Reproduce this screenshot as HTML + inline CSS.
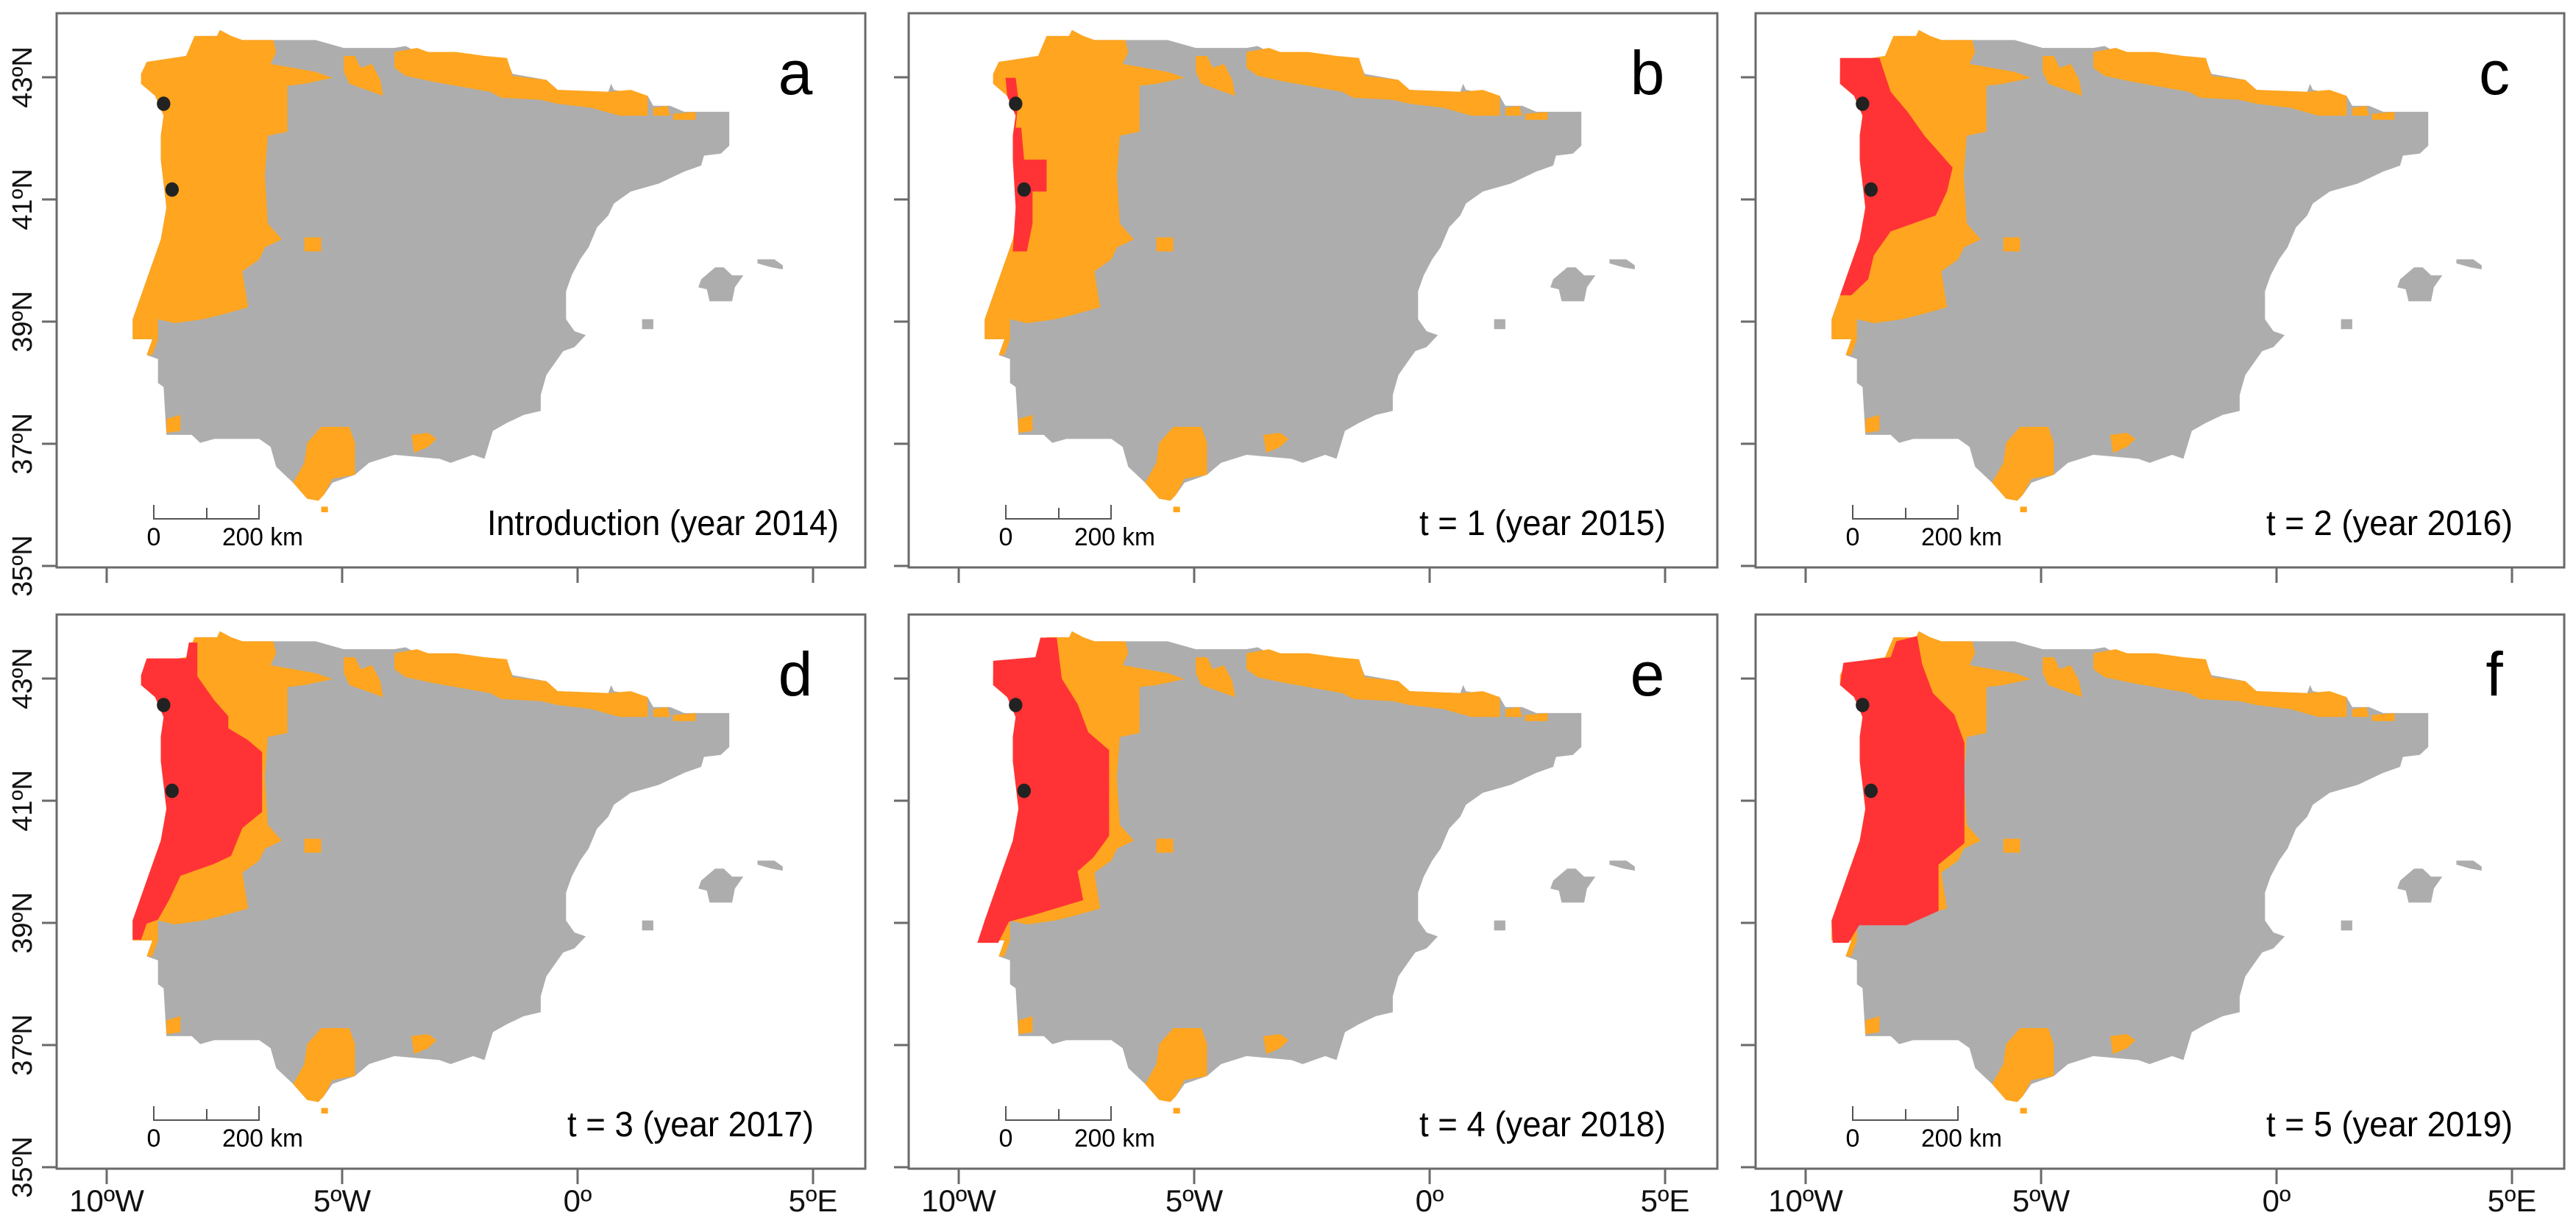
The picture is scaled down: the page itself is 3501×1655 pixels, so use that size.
<!DOCTYPE html>
<html><head><meta charset="utf-8"><style>
html,body{margin:0;padding:0;background:#fff;}
svg{display:block;font-family:"Liberation Sans",Arial,sans-serif;}
</style></head><body>
<svg id="fig" width="3501" height="1655" viewBox="0 0 3501 1655" xmlns="http://www.w3.org/2000/svg"></svg>
<script>
const latTicks = [43, 41, 39, 37, 35];
const latLabels = ["43ºN", "41ºN", "39ºN", "37ºN", "35ºN"];
const lonTicks = [-10, -5, 0, 5];
const lonLabels = ["10ºW", "5ºW", "0º", "5ºE"];
const panelLetters = ["a", "b", "c", "d", "e", "f"];
const panelCaptions = ["Introduction (year 2014)", "t = 1 (year 2015)", "t = 2 (year 2016)", "t = 3 (year 2017)", "t = 4 (year 2018)", "t = 5 (year 2019)"];
const sites = [[290,260],[305,475]];

// map outlines in map units
const iberia = "250,185 260,155 330,140 345,90 385,90 390,75 410,90 430,100 560,100 610,120 700,120 720,115 740,130 900,150 910,185 970,200 990,225 1080,230 1085,210 1090,225 1150,240 1160,265 1190,265 1215,280 1295,280 1295,365 1280,385 1250,390 1245,415 1215,430 1170,460 1120,480 1090,510 1080,540 1060,570 1045,620 1030,650 1015,690 1005,730 1005,800 1020,830 1040,840 1020,870 1000,880 990,900 970,940 960,990 960,1030 930,1040 900,1060 875,1080 860,1150 840,1140 800,1160 780,1150 700,1140 655,1160 630,1190 590,1210 575,1240 565,1255 545,1250 520,1210 490,1170 480,1120 460,1100 380,1100 355,1110 340,1090 295,1090 290,970 280,960 280,900 260,890 270,850 235,850 235,800 250,740 265,680 285,600 295,520 285,400 285,340 290,290 275,240 250,210";
const islands = ["1245,700 1270,670 1285,670 1300,690 1320,690 1305,720 1300,755 1260,755 1255,725 1240,720","1345,650 1375,650 1390,665 1390,675 1370,670 1345,660","1140,800 1160,800 1160,825 1140,825"];
const orangeAreas = [
"250,185 260,155 330,140 345,90 385,90 390,75 410,90 430,100 485,100 490,130 480,160 520,170 560,180 590,195 540,210 510,215 510,330 475,340 470,440 475,560 500,600 470,620 460,650 430,680 440,770 390,790 360,800 310,810 280,800 280,850 270,890 260,890 270,850 235,850 235,800 250,740 265,680 285,600 295,520 285,400 285,340 290,290 275,240 250,210",
"610,140 630,140 640,170 660,160 675,200 680,240 620,210 610,180",
"700,130 740,120 760,130 810,130 860,140 900,145 910,190 970,200 990,225 1080,230 1120,225 1150,240 1150,290 1100,290 1050,270 990,260 960,250 890,245 870,230 830,220 770,205 720,190 700,170",
"1160,270 1185,265 1190,290 1160,290","1195,285 1235,280 1235,300 1195,300",
"540,595 570,595 570,630 540,630","295,1050 320,1040 320,1080 295,1085",
"570,1070 620,1070 630,1110 630,1190 590,1200 575,1240 565,1255 545,1250 520,1210 540,1160 545,1110",
"730,1090 760,1085 775,1100 760,1120 735,1135","570,1270 582,1270 582,1284 570,1284"];
const redAreas = [
"",
"272,195 290,195 295,250 290,320 300,320 305,400 345,400 345,480 320,480 320,560 310,630 285,630 290,520 285,400 285,340 290,290 275,240",
"250,145 320,145 340,230 370,280 400,340 450,420 440,480 420,540 340,580 310,640 300,700 270,740 250,740 265,680 285,600 295,520 285,400 285,340 290,290 275,240 250,210 250,185",
"260,143 330,143 335,103 350,103 350,188 380,248 405,288 405,318 440,348 465,378 465,528 430,568 410,638 380,658 320,688 300,748 280,798 260,808 250,848 235,848 235,800 250,740 265,680 285,600 295,520 285,400 285,340 290,290 275,240 250,210 250,185",
"250,149 325,140 334,91 363,91 372,194 400,257 419,328 456,373 456,588 428,642 400,677 410,749 325,785 278,803 259,856 222,856 235,800 250,740 265,680 285,600 295,520 285,400 285,340 290,290 275,240 250,210",
"256,154 340,140 350,100 387,87 396,158 415,230 453,284 471,355 471,606 425,660 425,776 368,812 284,812 265,856 237,856 235,800 250,740 265,680 285,600 295,520 285,400 285,340 290,290 275,240 250,210"];

const NS = "http://www.w3.org/2000/svg";
const svg = document.getElementById("fig");
const lefts = [77, 1235, 2386], tops = [18, 835];
const PW = 1099, PH = 753;
function yLat(lat){ return 87 + (43 - lat) * 83; }
function xLon(lon){ return 68 + (lon + 10) * 64; }
function mk(tag, attrs, parent){ const e = document.createElementNS(NS, tag); for (const k in attrs) e.setAttribute(k, attrs[k]); parent.appendChild(e); return e; }

for (let i = 0; i < 6; i++) {
  const col = i % 3, row = Math.floor(i / 3);
  const L = lefts[col], T = tops[row];
  const g = mk("g", {transform: `translate(${L},${T})`}, svg);
  
  
  const m = mk("g", {transform: "scale(0.765,0.542) translate(-100,-33)"}, g);
  const land = mk("polygon", {points: iberia, fill: "#adadad"}, m);
  
  
  islands.forEach(p => {
    const isl = mk("polygon", {points: p, fill: "#adadad"}, m);
    
    
  });
  orangeAreas.forEach(p => {
    const o = mk("polygon", {points: p, fill: "#ffa51f"}, m);
    
    
  });
  if (redAreas[i]) {
    const r = mk("polygon", {points: redAreas[i], fill: "#ff3336"}, m);
    
    
  }
  sites.forEach(s => {
    const d = mk("ellipse", {cx: s[0], cy: s[1], rx: 12, ry: 18, fill: "#222"}, m);
    
    
  });
  const fr = mk("rect", {x: 0, y: 0, width: PW, height: PH, fill: "none", stroke: "#6a6a6a", "stroke-width": 3}, g);
  
  
  latTicks.forEach((lat, k) => {
    const y = yLat(lat);
    const t = mk("line", {x1: -20, x2: 0, y1: y, y2: y, stroke: "#6a6a6a", "stroke-width": 3}, g);
    
    
    if (col === 0) {
      const tx = mk("text", {x: 0, y: 0, "font-size": 38, "text-anchor": "middle", fill: "#111", transform: `translate(-34,${y}) rotate(-90)`}, g);
      tx.textContent = latLabels[k];
      
      
    }
  });
  lonTicks.forEach((lon, k) => {
    const x = xLon(lon);
    const t = mk("line", {x1: x, x2: x, y1: PH, y2: PH + 21, stroke: "#6a6a6a", "stroke-width": 3}, g);
    
    
    if (row === 1) {
      const tx = mk("text", {x: x, y: PH + 58, "font-size": 42, "text-anchor": "middle", fill: "#111"}, g);
      tx.textContent = lonLabels[k];
      
      
    }
  });
  const lt = mk("text", {x: 1004, y: 110, "font-size": 84, "text-anchor": "middle", fill: "#000"}, g);
  lt.textContent = panelLetters[i];
  
  
  const capW = i === 0 ? 478 : 335;
  const capR = i === 0 ? PW - 36 : PW - 70;
  const cp = mk("text", {x: capR - capW, y: 709, "font-size": 48, fill: "#000", textLength: capW, lengthAdjust: "spacingAndGlyphs"}, g);
  cp.textContent = panelCaptions[i];
  
  
  const sb = mk("path", {d: "M132,668 V687 H275 V668 M204,687 V672", fill: "none", stroke: "#555", "stroke-width": 2}, g);
  
  
  const s0 = mk("text", {x: 132, y: 723, "font-size": 34, "text-anchor": "middle", fill: "#000"}, g);
  s0.textContent = "0";
  
  
  const s1 = mk("text", {x: 225, y: 723, "font-size": 34, fill: "#000", textLength: 110, lengthAdjust: "spacingAndGlyphs"}, g);
  s1.textContent = "200 km";
  
  
}
</script>
</body></html>
